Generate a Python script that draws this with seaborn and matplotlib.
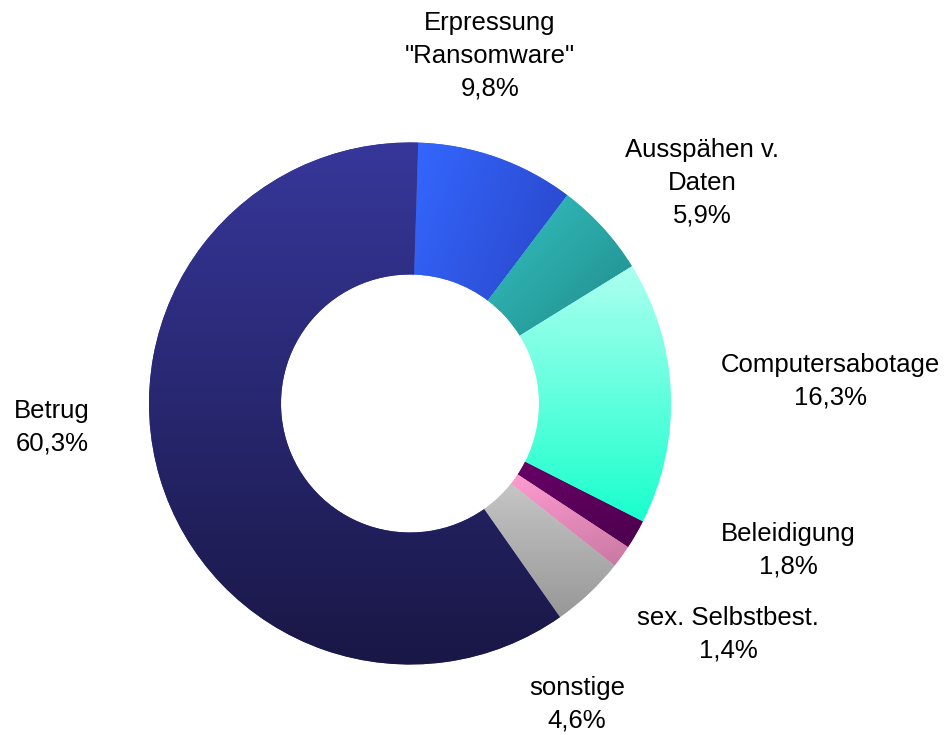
import numpy as np
import seaborn as sns
import matplotlib.pyplot as plt
from matplotlib.colors import to_rgb

# data
categories = ['Erpressung\n"Ransomware"', 'Ausspähen v.\nDaten', 'Computersabotage',
              'Beleidigung', 'sex. Selbstbest.', 'sonstige', 'Betrug']
shares = [9.8, 5.9, 16.3, 1.8, 1.4, 4.6, 60.3]
share_labels = ['9,8%', '5,9%', '16,3%', '1,8%', '1,4%', '4,6%', '60,3%']

# gradient colours (start, end) and direction of each slice
grad_start = ['#3468ff', '#34c2c2', '#adfff0', '#680068', '#ff9cd0', '#c6c6c6', '#37379b']
grad_end = ['#2944c6', '#218a8a', '#18ffcc', '#4c004c', '#c877a2', '#979797', '#191745']
grad_dir = [(1, -0.4), (1, -1), (0, -1), (0.3, -1), (0.3, -1), (0, -1), (0, -1)]

# label positions (pixel space, y up)
label_pos = [(490, 679), (702, 552), (830, 354), (788, 185), (728, 101), (577, 31), (52, 308)]

sns.set_style("white")
plt.rcParams['font.family'] = ['Liberation Sans', 'DejaVu Sans']

W, H = 944, 735
fig = plt.figure(figsize=(W / 100, H / 100), dpi=100)
ax = fig.add_axes([0, 0, 1, 1])

cx, cy = 410, H - 403.5
r_out, r_in = 261, 129

wedges, _ = ax.pie(shares, startangle=88.2, counterclock=False, radius=r_out,
                   center=(cx, cy), frame=True,
                   wedgeprops=dict(width=r_out - r_in, linewidth=0, edgecolor='none'))

for w, c0, c1, d in zip(wedges, grad_start, grad_end, grad_dir):
    w.set_facecolor(c0)
    ext = w.get_path().get_extents()
    x0, y0, x1, y1 = ext.x0 - 2, ext.y0 - 2, ext.x1 + 2, ext.y1 + 2
    xs = np.linspace(x0, x1, 200)
    ys = np.linspace(y0, y1, 200)
    X, Y = np.meshgrid(xs, ys)
    d = np.array(d, float) / np.hypot(*d)
    proj = X * d[0] + Y * d[1]
    t = (proj - proj.min()) / (proj.max() - proj.min())
    a, b = np.array(to_rgb(c0)), np.array(to_rgb(c1))
    img = a[None, None, :] * (1 - t[..., None]) + b[None, None, :] * t[..., None]
    im = ax.imshow(img, extent=(x0, x1, y0, y1), origin='lower', interpolation='bilinear',
                   zorder=w.get_zorder() + 0.1)
    im.set_clip_path(w)

for cat, lab, (lx, ly) in zip(categories, share_labels, label_pos):
    ax.text(lx, ly, cat + '\n' + lab, ha='center', va='center', multialignment='center',
            fontsize=18.5, linespacing=1.45, color='black')

ax.set_xlim(0, W)
ax.set_ylim(0, H)
ax.set_aspect('auto')
ax.axis('off')

fig.savefig('out.png', dpi=100, facecolor='white')
